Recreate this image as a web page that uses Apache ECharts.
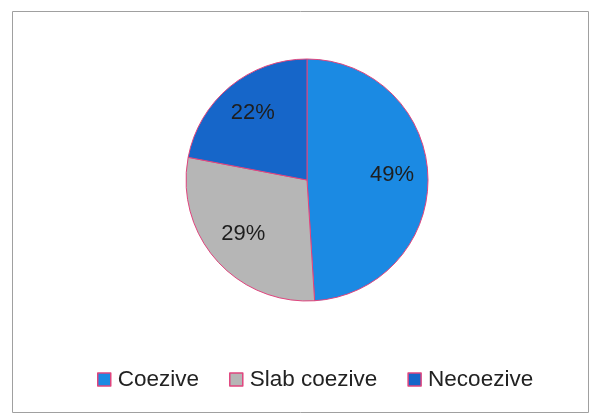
<!DOCTYPE html>
<html><head><meta charset="utf-8">
<script src="https://cdn.jsdelivr.net/npm/echarts@6/dist/echarts.min.js"></script>
<style>html,body{margin:0;padding:0;background:#fff}#c{width:591px;height:417px}</style>
</head><body><div id="c"></div>
<script>
const categories = ['Coezive', 'Slab coezive', 'Necoezive'];
const values = [49, 29, 22];
const colors = ['#1b8ae3', '#b6b6b6', '#1666c9'];

const chart = echarts.init(document.getElementById('c'));
const data = categories.map((n, i) => ({name: n, value: values[i], itemStyle: {color: colors[i]}}));
const labelData = categories.map((n, i) => ({name: n, value: values[i]}));
chart.setOption({
  backgroundColor: '#fff',
  animation: false,
  graphic: [{type: 'rect', shape: {x: 12.5, y: 11.5, width: 576, height: 401},
    style: {fill: 'none', stroke: '#a0a0a0', lineWidth: 1}}],
  legend: {
    data: categories, left: 92, top: 363, icon: 'rect', itemWidth: 13, itemHeight: 13, itemGap: 30,
    textStyle: {fontFamily: 'Liberation Sans', fontSize: 22.5, color: '#222', padding: [0, 0, 0, 2]},
    itemStyle: {borderColor: '#e0457e', borderWidth: 1.5}
  },
  series: [{
    type: 'pie', radius: [0, 121], center: [307, 180], startAngle: 90, clockwise: true,
    data: data, silent: true, z: 2,
    itemStyle: {borderColor: '#e0457e', borderWidth: 1},
    label: {show: false}, labelLine: {show: false}
  }, {
    type: 'pie', radius: [0, 164], center: [307, 178], startAngle: 90, clockwise: true,
    data: labelData, silent: true, z: 3,
    itemStyle: {color: 'rgba(0,0,0,0)', borderWidth: 0},
    label: {show: true, position: 'inside', formatter: '{c}%', fontFamily: 'Liberation Sans', fontSize: 22, color: '#1e1e1e'},
    labelLine: {show: false}
  }]
});
</script></body></html>
